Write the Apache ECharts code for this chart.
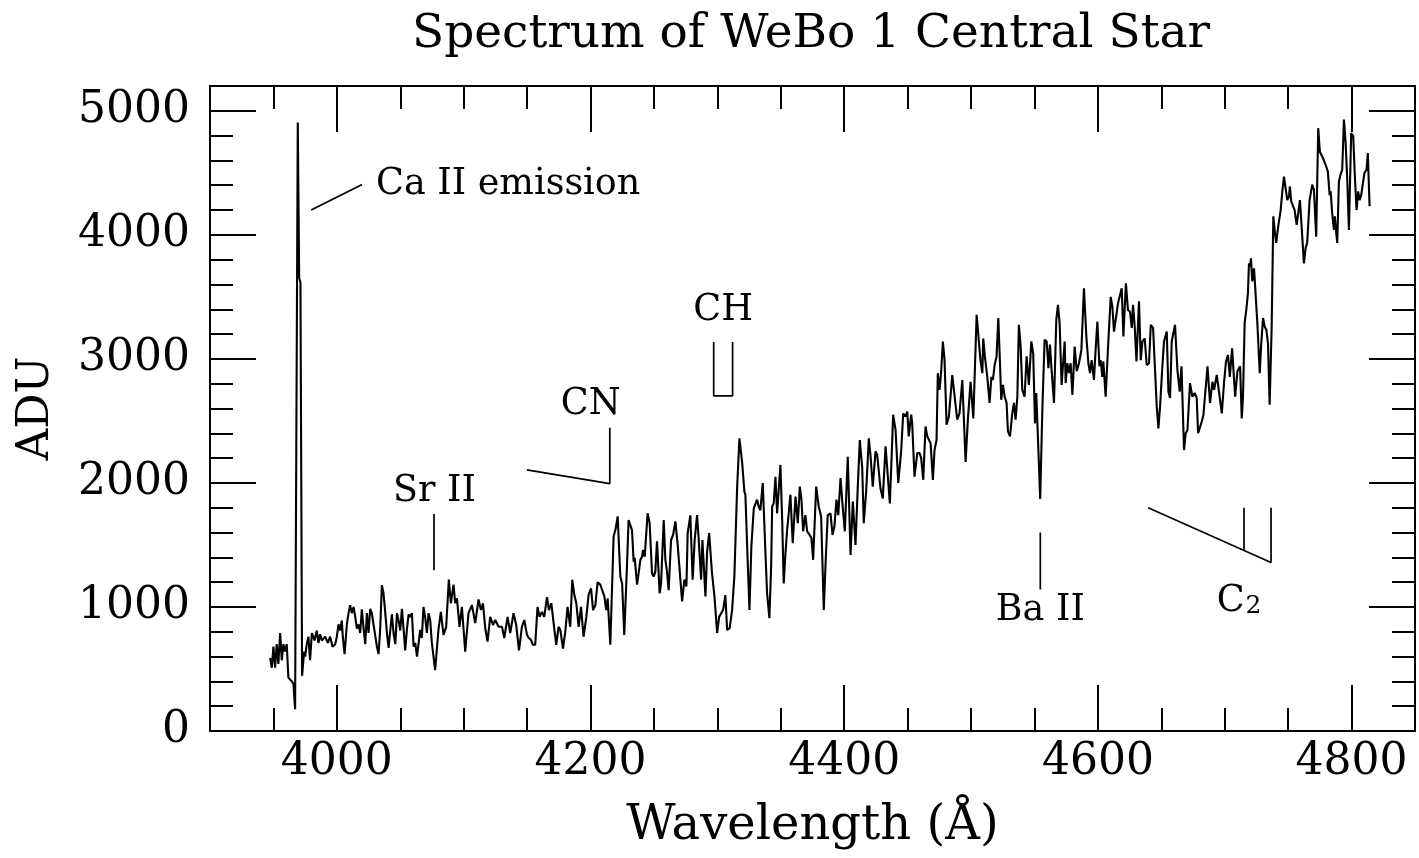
<!DOCTYPE html>
<html><head><meta charset="utf-8">
<script src="https://cdn.jsdelivr.net/npm/echarts@6/dist/echarts.min.js"></script>
<style>html,body{margin:0;padding:0;background:#fff}#c{width:1419px;height:858px}</style>
</head><body><div id="c"></div><script>
// Spectrum: [wavelength (Å), ADU]
const spectrum = [
[3947.4,590],[3948.7,510],[3950.0,680],[3951.3,510],[3952.6,700],[3953.9,540],[3955.3,790],[3956.6,570],[3957.9,700],[3959.2,640],
[3960.5,700],[3961.8,430],[3963.2,440],[3964.5,400],[3965.8,380],[3967.1,175],[3969.2,4905],[3970.3,3650],[3971.3,3620],[3972.6,445],
[3974.2,640],[3975.0,600],[3976.3,700],[3977.6,760],[3978.9,570],[3980.3,790],[3982.4,730],[3984.2,810],[3985.5,710],[3986.8,780],
[3988.2,730],[3990.8,760],[3992.9,710],[3994.7,760],[3996.6,680],[3998.7,700],[4000.0,760],[4001.3,860],[4002.6,810],[4003.9,890],
[4004.7,760],[4006.1,620],[4007.9,860],[4009.2,950],[4010.5,1015],[4011.8,950],[4013.2,1000],[4014.5,920],[4015.8,825],[4017.1,860],
[4018.4,790],[4019.7,980],[4021.1,825],[4022.4,700],[4023.7,950],[4025.0,790],[4026.3,985],[4027.6,950],[4028.9,860],[4030.3,860],
[4031.6,680],[4032.9,620],[4034.2,830],[4035.5,1175],[4036.8,1110],[4038.2,950],[4039.5,790],[4040.8,670],[4042.1,810],[4043.4,940],
[4044.7,790],[4046.1,700],[4047.4,950],[4048.7,890],[4050.0,810],[4051.3,985],[4052.6,825],[4053.9,650],[4055.3,825],[4056.6,940],
[4057.9,920],[4059.2,950],[4060.5,680],[4061.8,710],[4063.2,600],
[4065.7,815],[4067.0,750],[4068.3,1000],[4069.6,920],[4071.0,790],[4072.3,950],[4073.6,895],[4074.9,710],[4077.5,490],[4080.1,815],
[4082.0,960],[4084.1,775],[4086.2,840],[4088.3,1220],[4089.9,1030],[4092.0,1180],[4093.3,1030],[4094.7,1070],[4096.7,840],[4098.6,1000],
[4101.2,640],[4103.8,950],[4106.5,1015],[4109.1,870],[4111.7,1060],[4113.6,975],[4115.2,1030],[4117.0,830],[4118.8,720],[4120.9,920],
[4123.1,855],[4124.9,895],[4127.5,840],[4130.2,840],[4132.0,750],[4134.6,920],[4136.7,790],[4139.3,950],[4141.4,855],[4143.6,650],
[4145.9,840],[4147.8,895],[4149.9,775],[4151.4,750],[4153.0,735],[4154.6,695],[4156.4,695],[4158.2,1000],[4159.8,920],[4161.7,960],
[4163.5,920],[4165.7,1080],[4167.2,975],[4169.1,1030],[4170.9,870],[4173.0,695],[4174.8,840],[4176.2,815],[4178.3,665],[4180.1,800],
[4181.9,1000],[4184.0,840],[4185.6,1220],[4187.2,1100],[4188.8,1030],[4190.6,840],[4192.5,1000],[4194.5,760],[4196.7,920],[4198.5,1100],
[4200.4,1150],[4202.0,975],[4203.8,1015],[4205.6,1200],[4207.7,1180],
[4209.1,1195],[4210.9,1085],[4212.4,975],[4213.5,1070],[4215.6,695],[4218.2,1570],[4219.6,1620],[4221.4,1730],[4223.5,1245],[4224.9,1190],
[4226.6,775],[4228.8,1350],[4230.0,1700],[4231.4,1690],[4232.7,1620],[4234.0,1365],[4234.8,1395],[4236.7,1180],[4237.9,1270],[4239.3,1380],
[4240.6,1405],[4241.4,1460],[4242.7,1405],[4245.0,1755],[4246.6,1675],[4248.5,1270],[4249.8,1245],[4251.1,1285],[4252.4,1530],[4254.5,1110],
[4255.6,1190],[4257.7,1700],[4259.0,1380],[4260.3,1285],[4261.6,1135],[4263.5,1540],[4265.1,1580],[4266.9,1690],[4268.7,1500],[4269.5,1485],
[4272.2,1045],[4274.0,1220],[4275.6,1165],[4276.6,1595],[4278.7,1740],[4280.5,1220],[4282.1,1540],[4284.0,1740],[4285.3,1540],[4287.2,1220],
[4288.2,1540],[4290.6,1085],[4291.9,1445],[4293.5,1595],[4295.8,1270],[4297.7,1085],[4299.8,790],[4301.4,920],[4302.9,910],[4304.5,975],
[4306.3,1095],[4307.7,815],[4309.7,830],[4311.6,975],[4313.4,1245],[4315.6,1970],[4317.4,2360],[4319.5,2170],[4321.3,1930],[4322.1,1905],
[4323.5,1485],[4325.3,975],[4326.8,1485],[4328.7,1795],[4330.0,1810],[4331.3,1865],[4332.6,1810],
[4333.9,1780],[4335.8,2000],[4337.9,1435],[4339.2,1110],[4341.0,910],[4342.4,1325],[4343.2,1810],[4344.4,1835],[4345.8,2050],[4347.1,1755],
[4347.9,1755],[4349.7,2145],[4351.1,1700],[4352.3,1190],[4353.7,1435],[4355.0,1620],[4356.3,1620],[4357.6,1905],[4359.4,1515],[4361.6,1890],
[4363.4,1675],[4365.0,1970],[4366.3,1865],[4367.6,1610],[4369.4,1740],[4370.8,1610],[4372.8,1580],[4374.2,1555],[4375.5,1380],[4377.9,1970],
[4379.9,1810],[4381.8,1730],[4383.9,975],[4385.2,1325],[4387.0,1740],[4389.2,1755],[4390.8,1580],[4392.3,1650],[4393.9,1865],[4395.3,1740],
[4397.1,2040],[4398.6,1835],[4400.5,1610],[4402.8,2210],[4405.0,1420],[4406.8,1850],[4408.9,1500],[4410.7,1970],[4412.3,2345],[4414.2,2120],
[4415.4,1675],[4417.3,1930],[4419.4,2360],[4420.7,2225],[4422.5,1970],[4424.7,2255],[4426.0,2225],[4428.6,1955],[4430.4,1875],[4432.6,2295],
[4433.9,2120],[4436.0,1835],[4438.6,2550],[4440.5,2425],[4442.6,2000],[4444.9,2255],[4446.5,2560],[4448.3,2535],[4449.7,2575],[4450.9,2375],
[4452.8,2550],
[4453.6,2480],[4455.4,2050],[4457.6,2240],[4459.4,2240],[4460.7,2200],[4462.3,2025],[4464.1,2455],[4465.5,2375],[4466.7,2375],[4468.1,2320],
[4469.9,2025],[4471.2,2265],[4472.8,2345],[4473.8,2885],[4475.2,2750],[4476.5,2910],[4477.8,3140],[4479.1,2990],[4480.7,2470],[4482.5,2535],
[4485.2,2870],[4486.5,2855],[4489.1,2510],[4490.9,2560],[4493.1,2830],[4495.7,2170],[4497.5,2510],[4499.6,2815],[4501.8,2520],[4503.0,2910],
[4504.4,3355],[4505.7,3340],[4507.5,2980],[4508.9,2885],[4509.6,3165],[4510.9,3020],[4512.8,2855],[4514.6,2645],[4516.0,2855],[4517.2,2830],
[4518.6,2950],[4520.1,3020],[4521.5,3330],[4522.8,2965],[4523.8,2670],[4525.1,2790],[4526.5,2695],[4528.0,2645],[4529.1,2415],[4530.7,2375],
[4532.5,2560],[4533.8,2645],[4535.1,2510],[4536.5,2695],[4537.7,3275],[4539.1,3100],[4540.4,2750],[4542.2,2695],[4543.8,3020],[4545.6,2790],
[4547.5,3140],[4549.0,3045],[4550.4,2480],[4551.4,2725],[4552.7,2375],[4554.5,1870],[4556.2,2590],[4558.0,3155],[4559.6,3140],[4561.0,2925],
[4562.2,3115],[4563.5,2910],[4565.4,2645],[4567.2,3315],[4568.5,3435],[4569.8,3290],[4571.4,2790],[4572.8,2790],[4573.8,3140],[4574.6,2805],
[4575.9,2965],[4577.2,2885],[4578.5,2965],
[4579.9,2710],[4581.7,3100],[4583.3,2900],[4585.1,2965],[4587.0,3075],[4589.0,3570],[4590.9,3180],[4592.5,2965],[4593.8,2885],[4595.1,2990],
[4596.9,2830],[4598.2,3075],[4599.6,3300],[4601.2,2940],[4602.2,2990],[4603.5,2855],[4604.3,2980],[4606.1,2695],[4607.9,3075],[4610.1,3500],
[4611.4,3420],[4612.7,3220],[4614.0,3220],[4615.9,3450],[4617.4,3450],[4618.8,3570],[4620.1,3180],[4622.1,3610],[4623.7,3395],[4625.3,3380],
[4626.7,3250],[4627.7,3435],[4629.1,3250],[4630.4,2980],[4632.4,3465],[4633.8,2990],[4635.1,3140],[4636.9,3165],[4638.5,2950],[4640.3,2965],
[4641.7,3275],[4643.5,3250],[4644.8,2965],[4646.4,2615],[4647.7,2440],[4649.0,2615],[4650.9,2950],[4652.1,3140],[4653.5,3140],[4654.3,3220],
[4655.6,2735],[4656.9,2685],[4658.2,3140],[4660.8,3275],[4662.7,2910],[4664.5,2735],[4665.9,2940],[4667.9,2265],[4669.2,2400],[4670.6,2425],
[4672.6,2805],[4674.5,2695],[4676.3,2725],[4677.9,2685],[4679.0,2400],[4680.5,2385],[4681.9,2495],[4683.2,2550],[4684.5,2550],[4686.4,2940],
[4688.4,2645],[4690.3,2815],[4691.6,2750],[4693.7,2870],[4695.8,2710],[4697.7,2560],[4699.5,2815],[4701.0,2980],[4702.6,3030],[4704.0,2855],
[4705.8,3085],[4708.2,2695],[4710.0,2900],[4712.1,2940],
[4713.4,2520],[4714.4,2695],[4715.7,3290],[4717.0,3395],[4718.3,3530],[4719.1,3770],[4719.9,3745],[4720.7,3810],[4721.7,3625],[4723.1,3730],
[4724.4,3720],[4725.7,3290],[4727.6,2885],[4728.8,3125],[4730.2,3330],[4731.5,3260],[4732.8,3235],[4734.1,3125],[4735.4,2630],[4737.0,3260],
[4738.3,4150],[4739.6,4015],[4740.6,3935],[4742.2,4070],[4744.1,4200],[4745.4,4350],[4746.7,4470],[4748.0,4455],[4749.3,4280],[4750.6,4310],
[4751.4,4390],[4752.4,4270],[4753.8,4280],[4755.1,4200],[4756.7,4080],[4758.0,4080],[4759.3,4280],[4760.6,4070],[4762.4,3770],[4763.8,3895],
[4765.0,3935],[4766.9,4280],[4769.0,4405],[4770.3,4365],[4772.1,3985],[4773.7,4860],[4775.0,4670],[4776.4,4670],[4777.4,4620],[4778.7,4630],
[4780.0,4550],[4781.3,4510],[4782.7,4320],[4783.5,4350],[4784.7,4175],[4786.1,4040],[4786.8,4150],[4787.9,4015],[4788.7,3935],[4790.0,4430],
[4791.3,4485],[4792.6,4525],[4794.0,4930],[4795.3,4740],[4796.5,4470],[4797.9,4040],[4799.7,4820],[4801.3,4795],[4802.6,4470],[4803.9,4200],
[4805.2,4350],[4806.3,4280],[4807.6,4320],[4808.9,4415],[4810.2,4500],[4811.8,4525],[4812.8,4660],[4814.2,4230]
];

const xMajorTicks = [4000, 4200, 4400, 4600, 4800];
const yMajorTicks = [0, 1000, 2000, 3000, 4000, 5000];

// annotation marker lines (data coordinates)
const caLine = [[3979.8, 4200], [4019.9, 4405]];
const srLine = [[4076.6, 1750], [4076.6, 1295]];
const cnLine = [[4149.8, 2105], [4215.2, 1995], [4215.2, 2445]];
const chLine = [[4297.1, 3137], [4297.1, 2702], [4312.0, 2702], [4312.0, 3137]];
const baLine = [[4554.6, 1600], [4554.6, 1140]];
const c2Line = [[4639.6, 1800], [4736.5, 1358], [4736.5, 1800]];
const c2Tick = [[4715.2, 1800], [4715.2, 1455]];

const annotationText = ['Ca II emission', 'Sr II', 'CN', 'CH', 'Ba II', '{c|C}{s|2}'];
const annotationX = [4030.9, 4077.0, 4200.2, 4304.6, 4554.6, 4711.3];
const annotationY = [4402, 1928, 2629, 3387, 973, 1000];

const FONT = 'DejaVu Serif';
const chart = echarts.init(document.getElementById('c'), null, {renderer: 'canvas'});
const plain = v => String(v);

function xAx(pos, major, withLabels) {
  const a = {
    type: 'value', min: 3900, max: 4850, position: pos,
    splitLine: {show: false},
    axisLine: {show: major, onZero: false, lineStyle: {color: '#000', width: 2}},
    axisTick: {show: true, inside: true, length: major ? 46 : 23, lineStyle: {color: '#000', width: 2}},
    axisLabel: {show: false}
  };
  if (major) {
    a.axisTick.customValues = xMajorTicks;
    if (withLabels) {
      a.axisLabel = {show: true, customValues: xMajorTicks, formatter: plain, margin: 10, fontSize: 44, color: '#000', fontFamily: FONT};
      a.name = 'Wavelength (\u00C5)';
      a.nameLocation = 'middle';
      a.nameGap = 72;
      a.nameTextStyle = {fontSize: 48, color: '#000', fontFamily: FONT};
    }
  } else {
    a.interval = 50;
  }
  return a;
}
function yAx(pos, major, withLabels) {
  const a = {
    type: 'value', min: 0, max: 5200, position: pos,
    splitLine: {show: false},
    axisLine: {show: major, onZero: false, lineStyle: {color: '#000', width: 2}},
    axisTick: {show: true, inside: true, length: major ? 46 : 23, lineStyle: {color: '#000', width: 2}},
    axisLabel: {show: false}
  };
  if (major) {
    a.axisTick.customValues = yMajorTicks;
    if (withLabels) {
      a.axisLabel = {show: true, customValues: yMajorTicks, formatter: plain, margin: 20, fontSize: 44, color: '#000', fontFamily: FONT};
      a.name = 'ADU';
      a.nameLocation = 'middle';
      a.nameGap = 151;
      a.nameTextStyle = {fontSize: 44, color: '#000', fontFamily: FONT};
    }
  } else {
    a.interval = 200;
  }
  return a;
}

function annoSeries(data) {
  return {type: 'line', data: data, xAxisIndex: 0, yAxisIndex: 0, showSymbol: false, symbol: 'none',
    lineStyle: {color: '#000', width: 1.7}, silent: true, z: 3};
}

const labelData = annotationText.map((t, i) => {
  const d = {name: t, value: [annotationX[i], annotationY[i]]};
  if (i === 0) d.label = {position: 'right', distance: 0};
  return d;
});

chart.setOption({
  animation: false,
  backgroundColor: '#fff',
  grid: {left: 210, right: 4, top: 86, bottom: 127, containLabel: false},
  graphic: [{type: 'text', left: 812 - 400, top: 11, style: {text: 'Spectrum of WeBo 1 Central Star', x: 400, textAlign: 'center', fontSize: 47, fontFamily: FONT, fill: '#000'}}],
  xAxis: [xAx('bottom', true, true), xAx('bottom', false, false), xAx('top', true, false), xAx('top', false, false)],
  yAxis: [yAx('left', true, true), yAx('left', false, false), yAx('right', true, false), yAx('right', false, false)],
  series: [
    {type: 'line', data: spectrum, xAxisIndex: 0, yAxisIndex: 0, showSymbol: false, symbol: 'none',
      lineStyle: {color: '#000', width: 2.1}, silent: true, z: 4},
    annoSeries(caLine), annoSeries(srLine), annoSeries(cnLine), annoSeries(chLine),
    annoSeries(baLine), annoSeries(c2Line), annoSeries(c2Tick),
    {type: 'scatter', data: labelData, xAxisIndex: 0, yAxisIndex: 0, symbolSize: 0,
      itemStyle: {color: '#000', opacity: 1}, silent: true,
      label: {show: true, position: 'inside', formatter: '{b}', fontSize: 36.5, fontFamily: FONT, color: '#000', opacity: 1, textBorderWidth: 0,
        rich: {
          c: {fontSize: 36.5, fontFamily: FONT, color: '#000', padding: [0, 1, 10, 0]},
          s: {fontSize: 25, fontFamily: FONT, color: '#000'}
        }}}
  ]
});
</script></body></html>
